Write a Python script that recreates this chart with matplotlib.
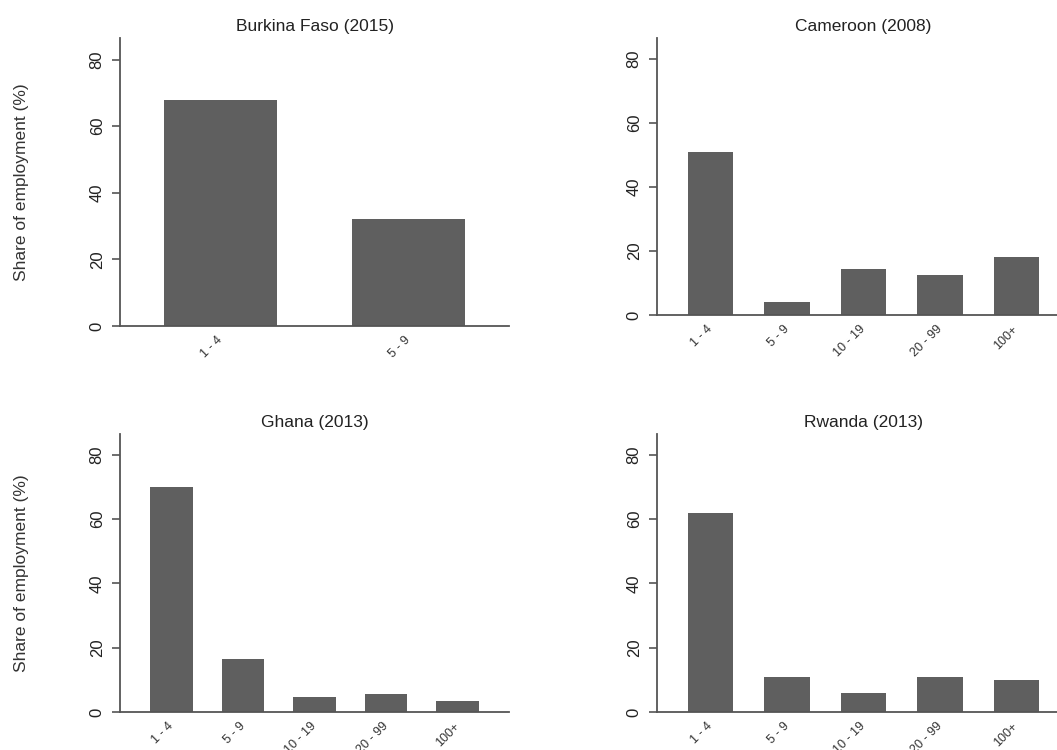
import matplotlib
matplotlib.use("Agg")
import matplotlib.pyplot as plt
import numpy as np

plt.rcParams['font.family'] = ['Liberation Sans', 'DejaVu Sans']

# firm size classes (number of employees)
sizes_bf = ['1 - 4', '5 - 9']
sizes = ['1 - 4', '5 - 9', '10 - 19', '20 - 99', '100+']

# share of employment by firm size, in %
burkina = [68, 32]
cameroon = [51, 4.2, 14.3, 12.4, 18.2]
ghana = [70, 16.5, 4.6, 5.6, 3.3]
rwanda = [62, 11, 5.9, 11, 10.1]

titles = ['Burkina Faso (2015)', 'Cameroon (2008)', 'Ghana (2013)', 'Rwanda (2013)']

W, H = 1057, 750
bar_col = '#5f5f5f'
axis_col = '#555555'


def px_axes(fig, left, right, top, bottom):
    # axes box given in pixel coordinates (origin top-left)
    return fig.add_axes([left / W, 1 - bottom / H, (right - left) / W, (bottom - top) / H])


def draw(ax, labels, vals, title, xlim, ylabel=False):
    x = np.arange(len(vals))
    ax.bar(x, vals, width=0.6, color=bar_col, zorder=2)
    ax.set_xlim(*xlim)
    ax.set_ylim(0, 86.5)
    ax.set_yticks([0, 20, 40, 60, 80])
    ax.set_xticks(x)
    ax.set_xticklabels(labels, rotation=45, ha='right', va='center',
                       rotation_mode='anchor', fontsize=9, color='#333333')
    for lab in ax.get_yticklabels():
        lab.set_rotation(90)
        lab.set_va('center')
    ax.tick_params(axis='y', length=6, width=1.2, color=axis_col, pad=5,
                   labelsize=12, labelcolor='#222222')
    ax.tick_params(axis='x', length=0, pad=9)
    for s in ['top', 'right']:
        ax.spines[s].set_visible(False)
    for s in ['left', 'bottom']:
        ax.spines[s].set_color(axis_col)
        ax.spines[s].set_linewidth(1.3)
    ax.set_title(title, fontsize=12.5, color='#222222', pad=5)
    if ylabel:
        ax.set_ylabel('Share of employment (%)', fontsize=12.5, color='#333333')
        ax.yaxis.set_label_coords(-0.235, 0.5)


fig = plt.figure(figsize=(W / 100, H / 100), dpi=100)

ax1 = px_axes(fig, 120, 509, 38, 326)
draw(ax1, sizes_bf, burkina, titles[0], (-0.535, 1.535), ylabel=True)

ax2 = px_axes(fig, 657, 1070, 38, 315)
draw(ax2, sizes, cameroon, titles[1], (-0.7, 4.7))

ax3 = px_axes(fig, 120, 509, 434, 712)
draw(ax3, sizes, ghana, titles[2], (-0.72, 4.72), ylabel=True)

ax4 = px_axes(fig, 657, 1070, 434, 712)
draw(ax4, sizes, rwanda, titles[3], (-0.7, 4.7))

fig.savefig('out.png', dpi=100, facecolor='white')
